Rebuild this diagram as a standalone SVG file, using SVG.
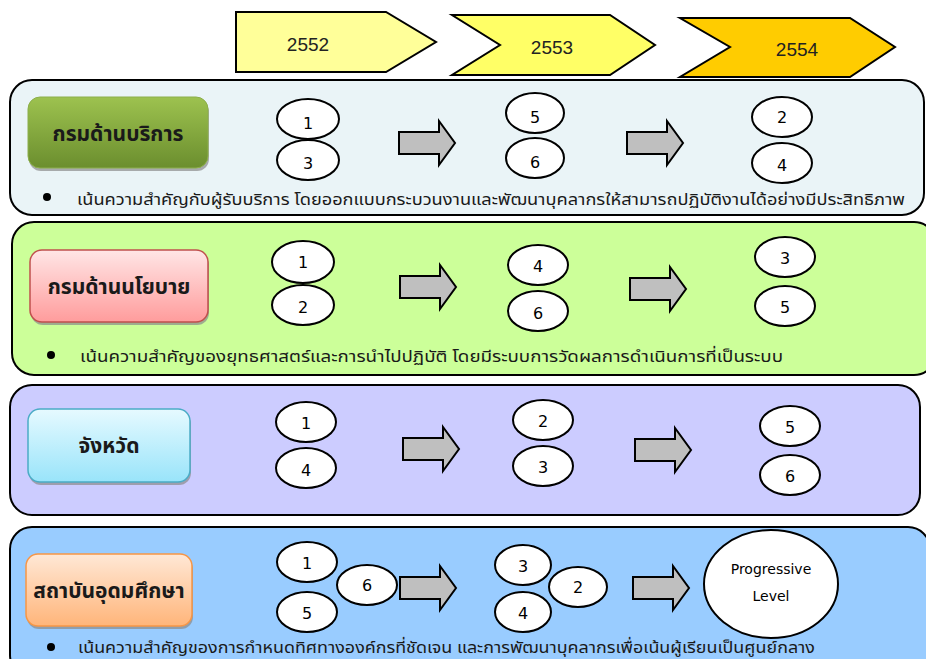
<svg xmlns="http://www.w3.org/2000/svg" width="926" height="659" viewBox="0 0 926 659">
<style>
.panel{stroke:#000;stroke-width:2}
.yr{font-family:"Liberation Sans",Arial,sans-serif;font-size:19px;fill:#222;text-anchor:middle}
.chev{stroke:#000;stroke-width:2}
.lbl{font-family:"Noto Sans Thai","Noto Sans","DejaVu Sans",sans-serif;font-weight:bold;font-size:21px;fill:#1a1a1a;text-anchor:middle}
.ell{fill:#fff;stroke:#000;stroke-width:2}
.num{font-family:"DejaVu Sans","Noto Sans",sans-serif;font-size:16px;fill:#000;text-anchor:middle}
.prog{font-family:"DejaVu Sans","Noto Sans",sans-serif;font-size:14px;fill:#000;text-anchor:middle}
.arr{fill:#BFBFBF;stroke:#000;stroke-width:2}
.bul{font-family:"Noto Sans Thai","Noto Sans","DejaVu Sans",sans-serif;font-size:16px;fill:#1a1a1a}
.shadow{fill:#8a8a8a;opacity:0.7}
</style>
<defs>
<linearGradient id="gG" x1="0" y1="0" x2="0" y2="1"><stop offset="0" stop-color="#9DC24F"/><stop offset="1" stop-color="#6B8E2E"/></linearGradient>
<linearGradient id="gR" x1="0" y1="0" x2="0" y2="1"><stop offset="0" stop-color="#FFE6E6"/><stop offset="1" stop-color="#FF9C9C"/></linearGradient>
<linearGradient id="gC" x1="0" y1="0" x2="0" y2="1"><stop offset="0" stop-color="#E6FAFF"/><stop offset="1" stop-color="#99E4FA"/></linearGradient>
<linearGradient id="gO" x1="0" y1="0" x2="0" y2="1"><stop offset="0" stop-color="#FFE8D6"/><stop offset="1" stop-color="#FFB57A"/></linearGradient>
<path id="bigArrow" class="arr" d="M0,-11 H40 V-22 L56,0 L40,22 V11 H0 Z"/>
</defs>

<g id="years">
<g id="y2552"><path class="chev" fill="#FFFF99" d="M236,12 H386 L436,42 L386,72 H236 Z"/><text class="yr" x="308" y="51">2552</text></g>
<g id="y2553"><path class="chev" fill="#FFFF66" d="M452,15 H610 L655,45 L610,75 H452 L500,45 Z"/><text class="yr" x="552" y="54">2553</text></g>
<g id="y2554"><path class="chev" fill="#FFCC00" d="M680,18 H850 L895,47 L850,77 H680 L730,47 Z"/><text class="yr" x="797" y="56">2554</text></g>
</g>

<g id="panel1">
<rect class="panel" x="10" y="80" width="914" height="135" rx="22" fill="#EAF4F7"/>
<rect class="shadow" x="29" y="100" width="180" height="71" rx="12"/>
<rect x="28" y="97" width="180" height="71" rx="12" fill="url(#gG)" stroke="#8CAF4A" stroke-width="1"/>
<text class="lbl" x="118" y="141">กรมด้านบริการ</text>
<ellipse class="ell" cx="308" cy="119" rx="31" ry="20"/><text class="num" x="308" y="129">1</text>
<ellipse class="ell" cx="308" cy="160" rx="31" ry="20"/><text class="num" x="308" y="169">3</text>
<ellipse class="ell" cx="535" cy="113" rx="29" ry="20"/><text class="num" x="535" y="123">5</text>
<ellipse class="ell" cx="535" cy="158" rx="29" ry="20"/><text class="num" x="535" y="168">6</text>
<ellipse class="ell" cx="782" cy="117" rx="30" ry="20"/><text class="num" x="782" y="123">2</text>
<ellipse class="ell" cx="782" cy="163" rx="30" ry="20"/><text class="num" x="782" y="171">4</text>
<circle cx="47" cy="197" r="4" fill="#000"/>
<text class="bul" x="77" y="205" textLength="828" lengthAdjust="spacingAndGlyphs">เน้นความสำคัญกับผู้รับบริการ โดยออกแบบกระบวนงานและพัฒนาบุคลากรให้สามารถปฏิบัติงานได้อย่างมีประสิทธิภาพ</text>
</g>

<g id="panel2">
<rect class="panel" x="12" y="222" width="924" height="153" rx="22" fill="#CCFF99"/>
<rect class="shadow" x="31" y="253" width="178" height="72" rx="12"/>
<rect x="30" y="250" width="178" height="72" rx="12" fill="url(#gR)" stroke="#C0504D" stroke-width="1.5"/>
<text class="lbl" x="119" y="294">กรมด้านนโยบาย</text>
<ellipse class="ell" cx="303" cy="262" rx="31" ry="21"/><text class="num" x="303" y="268">1</text>
<ellipse class="ell" cx="303" cy="305" rx="31" ry="20"/><text class="num" x="303" y="313">2</text>
<ellipse class="ell" cx="538" cy="265" rx="30" ry="20"/><text class="num" x="538" y="272">4</text>
<ellipse class="ell" cx="538" cy="311" rx="30" ry="20"/><text class="num" x="538" y="319">6</text>
<ellipse class="ell" cx="785" cy="257" rx="30" ry="20"/><text class="num" x="785" y="264">3</text>
<ellipse class="ell" cx="785" cy="306" rx="30" ry="20"/><text class="num" x="785" y="313">5</text>
<circle cx="51" cy="355" r="4" fill="#000"/>
<text class="bul" x="80" y="362" textLength="703" lengthAdjust="spacingAndGlyphs">เน้นความสำคัญของยุทธศาสตร์และการนำไปปฏิบัติ  โดยมีระบบการวัดผลการดำเนินการที่เป็นระบบ</text>
</g>

<g id="panel3">
<rect class="panel" x="10" y="385" width="910" height="130" rx="22" fill="#CCCCFF"/>
<rect class="shadow" x="29" y="412" width="162" height="73" rx="12"/>
<rect x="28" y="409" width="162" height="73" rx="12" fill="url(#gC)" stroke="#4BACC6" stroke-width="1.5"/>
<text class="lbl" x="109" y="453">จังหวัด</text>
<ellipse class="ell" cx="306" cy="422" rx="30" ry="20"/><text class="num" x="306" y="429">1</text>
<ellipse class="ell" cx="306" cy="468" rx="30" ry="20"/><text class="num" x="306" y="476">4</text>
<ellipse class="ell" cx="543" cy="420" rx="30" ry="20"/><text class="num" x="543" y="427">2</text>
<ellipse class="ell" cx="543" cy="466" rx="30" ry="20"/><text class="num" x="543" y="473">3</text>
<ellipse class="ell" cx="790" cy="426" rx="30" ry="20"/><text class="num" x="790" y="433">5</text>
<ellipse class="ell" cx="790" cy="475" rx="30" ry="20"/><text class="num" x="790" y="482">6</text>
</g>

<g id="panel4">
<rect class="panel" x="10" y="527" width="920" height="150" rx="22" fill="#99CCFF"/>
<rect class="shadow" x="27" y="557" width="166" height="72" rx="12"/>
<rect x="26" y="554" width="166" height="72" rx="12" fill="url(#gO)" stroke="#F79646" stroke-width="1.5"/>
<text class="lbl" x="109" y="598">สถาบันอุดมศึกษา</text>
<ellipse class="ell" cx="307" cy="562" rx="30" ry="20"/><text class="num" x="307" y="569">1</text>
<ellipse class="ell" cx="307" cy="612" rx="30" ry="20"/><text class="num" x="307" y="619">5</text>
<ellipse class="ell" cx="367" cy="585" rx="30" ry="20"/><text class="num" x="367" y="591">6</text>
<ellipse class="ell" cx="523" cy="565" rx="28" ry="20"/><text class="num" x="523" y="572">3</text>
<ellipse class="ell" cx="523" cy="612" rx="28" ry="20"/><text class="num" x="523" y="619">4</text>
<ellipse class="ell" cx="578" cy="587" rx="29" ry="20"/><text class="num" x="578" y="593">2</text>
<ellipse class="ell" cx="771" cy="584" rx="67" ry="54"/>
<text class="prog" x="771" y="574">Progressive</text>
<text class="prog" x="771" y="601">Level</text>
<circle cx="51" cy="647" r="4" fill="#000"/>
<text class="bul" x="78" y="653" textLength="737" lengthAdjust="spacingAndGlyphs">เน้นความสำคัญของการกำหนดทิศทางองค์กรที่ชัดเจน และการพัฒนาบุคลากรเพื่อเน้นผู้เรียนเป็นศูนย์กลาง</text>
</g>

<g id="connectors">
<use href="#bigArrow" x="399" y="143"/>
<use href="#bigArrow" x="627" y="143"/>
<use href="#bigArrow" x="400" y="287"/>
<use href="#bigArrow" x="630" y="289"/>
<use href="#bigArrow" x="403" y="449"/>
<use href="#bigArrow" x="635" y="450"/>
<use href="#bigArrow" x="400" y="588"/>
<use href="#bigArrow" x="633" y="588"/>
</g>
</svg>
